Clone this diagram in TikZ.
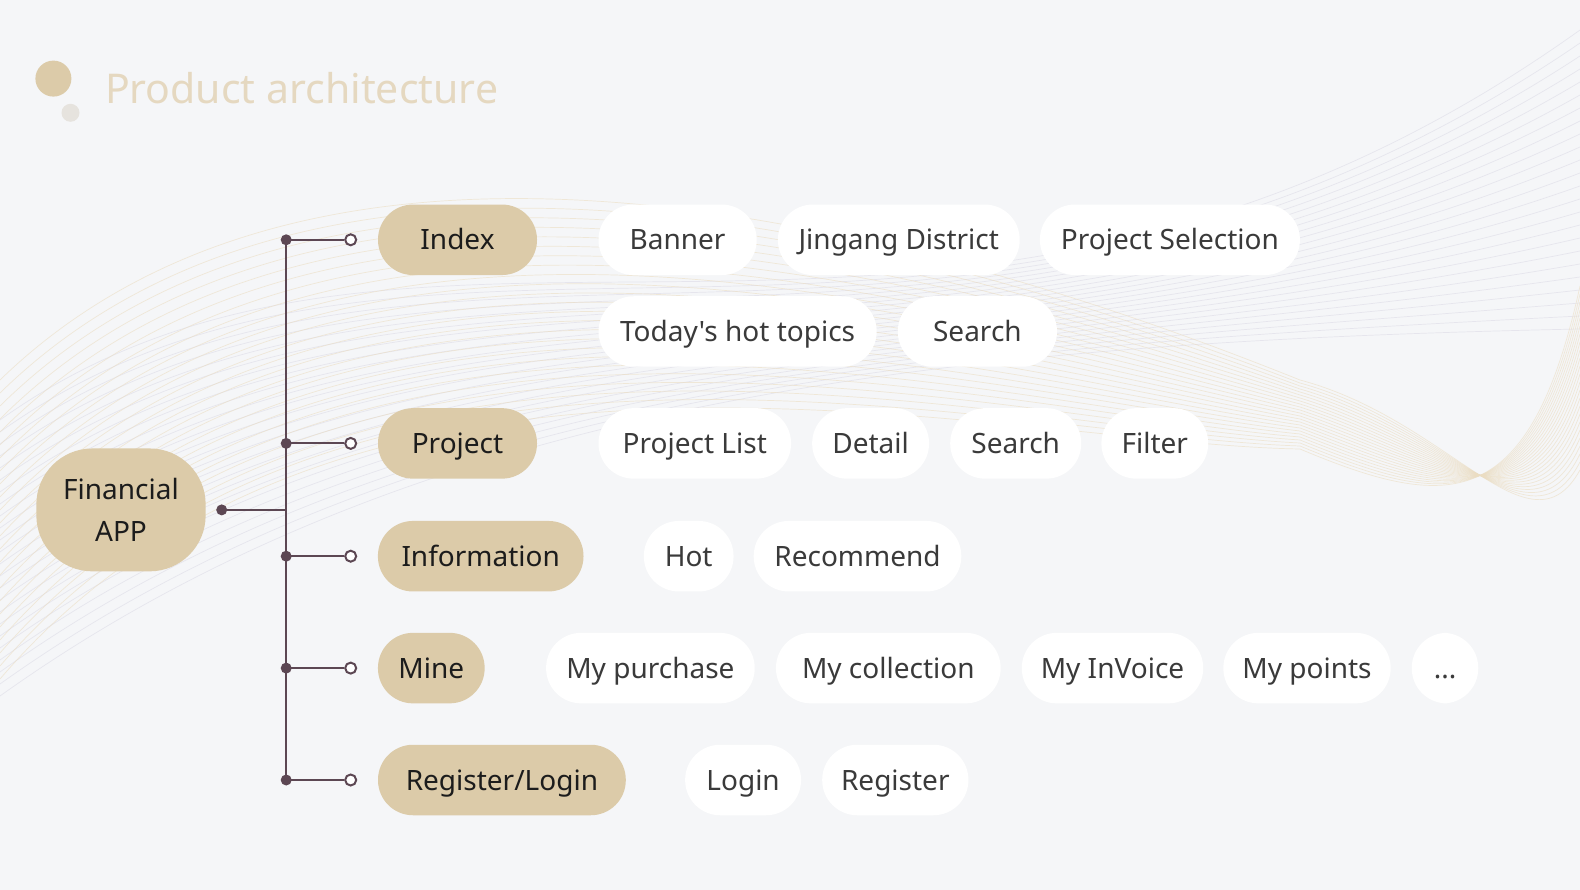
\documentclass[tikz,border=0pt]{standalone}
\usepackage{fontspec}
\setmainfont{Noto Sans}[Ligatures=TeXOff]
\definecolor{bgc}{HTML}{F5F6F8}
\definecolor{tanc}{HTML}{DCCBA9}
\definecolor{titlec}{HTML}{E5D8C0}
\definecolor{smallc}{HTML}{E6E3DE}
\definecolor{linec}{HTML}{5C4753}
\definecolor{subtext}{HTML}{3A3A3A}
\definecolor{cattext}{HTML}{1C1C1C}
\definecolor{wavetan}{HTML}{EBDDC2}
\definecolor{wavelav}{HTML}{DCDBE6}
\begin{document}
\begin{tikzpicture}[x=1pt,y=-1pt,
  pill/.style={rectangle, rounded corners=35pt, minimum height=70.5pt, inner sep=0pt,
    text height=20pt, text depth=0pt, font=\fontsize{28}{34}\selectfont},
  catpill/.style={pill, fill=tanc, text=cattext},
  subpill/.style={pill, fill=white, text=subtext},
  rootnode/.style={rectangle, rounded corners=56pt, fill=tanc, text=cattext, minimum width=169.3pt,
    minimum height=122.9pt, inner sep=0pt, align=center, font=\fontsize{28}{42}\selectfont},
  jdot/.style={circle, fill=linec, inner sep=0pt, minimum size=11pt},
  odot/.style={circle, draw=linec, line width=2pt, fill=white, inner sep=0pt, minimum size=11pt},
  conn/.style={draw=linec, line width=2pt},
  wavea/.style={draw=wavelav, line width=0.7pt, opacity=0.6},
  waveb/.style={draw=wavetan, line width=0.7pt, opacity=0.6}]
\useasboundingbox (0,0) rectangle (1580,890);
\fill[bgc] (0,0) rectangle (1580,890);
% background waves
\begin{scope}
\clip (0,0) rectangle (1580,890);
\foreach \i in {0,...,23}{
  \pgfmathsetmacro\ya{420+12*\i}
  \pgfmathsetmacro\yb{120+12*\i}
  \pgfmathsetmacro\yc{480-6*\i}
  \pgfmathsetmacro\yd{30+13*\i}
  \draw[wavea] (0,\ya) .. controls (420,\yb) and (950,\yc) .. (1580,\yd);
}
\foreach \i in {0,...,23}{
  \pgfmathsetmacro\ya{380+13*\i}
  \pgfmathsetmacro\yb{40+10*\i}
  \pgfmathsetmacro\yc{260+8*\i}
  \pgfmathsetmacro\yd{380+3*\i}
  \pgfmathsetmacro\ye{420+4*\i}
  \pgfmathsetmacro\yf{560-2*\i}
  \pgfmathsetmacro\yg{470-8*\i}
  \draw[waveb] (0,\ya) .. controls (350,\yb) and (1000,\yc) .. (1300,\yd)
     .. controls (1450,\ye) and (1530,\yf) .. (1580,\yg);
}
\end{scope}
% title
\fill[tanc] (53.4,78.6) circle (18pt);
\fill[smallc] (70.5,112.8) circle (9pt);
\node[anchor=base west, inner sep=0pt, text=titlec, font=\fontsize{41}{48}\selectfont] (title) at (104.8,103.5) {Product architecture};
% root
\node[rootnode] (root) at (121,509.9) {Financial\\APP};
% categories
\node[catpill, minimum width=159pt] (idx) at (457.5,239.8) {Index};
\node[catpill, minimum width=159pt] (prj) at (457.5,443.4) {Project};
\node[catpill, minimum width=205.6pt] (inf) at (480.7,556.2) {Information};
\node[catpill, minimum width=106.7pt] (mine) at (431.3,668.1) {Mine};
\node[catpill, minimum width=247.8pt] (reg) at (501.9,780) {Register/Login};
% connectors
\node[jdot] (rd) at (221.7,509.9) {};
\coordinate (rj) at (286.2,509.9);
\node[jdot] (b1) at (286.2,239.8) {};
\node[jdot] (b2) at (286.2,443.4) {};
\node[jdot] (b3) at (286.2,556.2) {};
\node[jdot] (b4) at (286.2,668.1) {};
\node[jdot] (b5) at (286.2,780) {};
\draw[conn] (b1.center) -- (b5.center);
\draw[conn] (rd.center) -- (rj);
\foreach \k/\y in {1/239.8,2/443.4,3/556.2,4/668.1,5/780}{
  \node[odot] (o\k) at (350.7,\y) {};
  \draw[conn] (b\k.center) -- (o\k.west);
}
% sub items
\node[subpill, minimum width=158.2pt] (s11) at (677.6,239.8) {Banner};
\node[subpill, minimum width=241.8pt] (s12) at (898.8,239.8) {Jingang District};
\node[subpill, minimum width=260pt] (s13) at (1169.9,239.8) {Project Selection};
\node[subpill, minimum width=278.1pt] (s14) at (737.6,331.5) {Today's hot topics};
\node[subpill, minimum width=159.2pt] (s15) at (977.4,331.5) {Search};
\node[subpill, minimum width=192.5pt] (s21) at (694.8,443.4) {Project List};
\node[subpill, minimum width=116.9pt] (s22) at (870.6,443.4) {Detail};
\node[subpill, minimum width=131pt] (s23) at (1015.7,443.4) {Search};
\node[subpill, minimum width=106.8pt] (s24) at (1154.8,443.4) {Filter};
\node[subpill, minimum width=89.7pt] (s31) at (688.7,556.2) {Hot};
\node[subpill, minimum width=207.6pt] (s32) at (857.5,556.2) {Recommend};
\node[subpill, minimum width=208.6pt] (s41) at (650.4,668.1) {My purchase};
\node[subpill, minimum width=224.7pt] (s42) at (888.3,668.1) {My collection};
\node[subpill, minimum width=181.4pt] (s43) at (1112.5,668.1) {My InVoice};
\node[subpill, minimum width=167.3pt] (s44) at (1307,668.1) {My points};
\node[subpill, minimum width=66.5pt] (s45) at (1445,668.1) {...};
\node[subpill, minimum width=115.9pt] (s51) at (743.1,780) {Login};
\node[subpill, minimum width=146.2pt] (s52) at (895.3,780) {Register};
\end{tikzpicture}
\end{document}
